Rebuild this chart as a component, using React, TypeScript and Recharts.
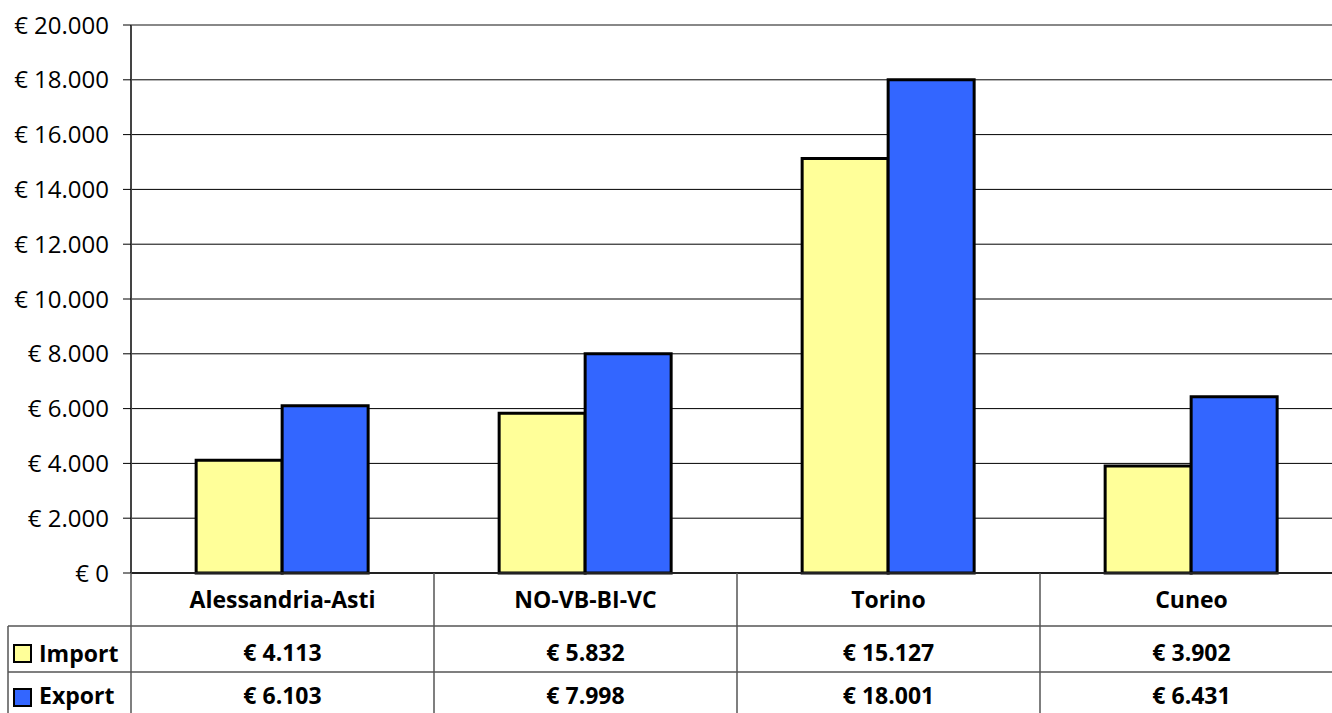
import React from 'react';
import { Bar, BarChart, CartesianGrid, ReferenceLine, XAxis, YAxis } from 'recharts';

const categories = ['Alessandria-Asti', 'NO-VB-BI-VC', 'Torino', 'Cuneo'];
const importValues = [4113, 5832, 15127, 3902];
const exportValues = [6103, 7998, 18001, 6431];
const yTicks = [0, 2000, 4000, 6000, 8000, 10000, 12000, 14000, 16000, 18000, 20000];

const data = categories.map((name, i) => ({
  name,
  import: importValues[i],
  export: exportValues[i],
}));

const W = 1350;
const H = 713;
const LEFT = 131;
const RIGHT = 7;
const TOP = 25;
const TABLE_TOP = 573;
const ROW1 = 626;
const ROW2 = 672;
const BAND = (W - LEFT - RIGHT) / categories.length;
const FONT = '"Open Sans", sans-serif';
const LINE = '#555';
const YELLOW = '#FFFF99';
const BLUE = '#3366FF';

const fmt = (v: number) => String(v).replace(/\B(?=(\d{3})+(?!\d))/g, '.');

const TableTick = (props: any) => {
  const { x, index } = props;
  const left = x - BAND / 2;
  const right = x + BAND / 2;
  const txt = { fontFamily: FONT, fontWeight: 700, fontSize: 23, fill: '#000', textAnchor: 'middle' as const };
  return (
    <g>
      {index === 0 && (
        <g>
          <line x1={LEFT} y1={TABLE_TOP} x2={LEFT} y2={H} stroke={LINE} strokeWidth={1.5} />
          <line x1={8} y1={ROW1} x2={W} y2={ROW1} stroke={LINE} strokeWidth={1.5} />
          <line x1={8} y1={ROW2} x2={W} y2={ROW2} stroke={LINE} strokeWidth={1.5} />
          <line x1={8} y1={ROW1} x2={8} y2={H} stroke={LINE} strokeWidth={1.5} />
          <rect x={14} y={645} width={17} height={17} fill={YELLOW} stroke="#000" strokeWidth={2} />
          <text x={39} y={662} style={{ ...txt, textAnchor: 'start' }}>Import</text>
          <rect x={14} y={689} width={17} height={17} fill={BLUE} stroke="#000" strokeWidth={2} />
          <text x={39} y={704} style={{ ...txt, textAnchor: 'start' }}>Export</text>
        </g>
      )}
      <line x1={right} y1={TABLE_TOP} x2={right} y2={H} stroke={LINE} strokeWidth={1.5} />
      <text x={(left + right) / 2} y={608} style={txt}>{categories[index]}</text>
      <text x={(left + right) / 2} y={661} style={txt}>€ {fmt(importValues[index])}</text>
      <text x={(left + right) / 2} y={704} style={txt}>€ {fmt(exportValues[index])}</text>
    </g>
  );
};

export default function App() {
  return (
    <div style={{ position: 'absolute', left: 0, top: 0, width: 1332, height: H, overflow: 'hidden', background: '#fff' }}>
      <BarChart
        width={W}
        height={H}
        data={data}
        margin={{ top: TOP, right: RIGHT, left: 0, bottom: 0 }}
        barGap={0}
        barCategoryGap="21.5%"
      >
        <CartesianGrid stroke="#000" strokeWidth={1} vertical={false} />
        <ReferenceLine y={20000} stroke="#888" strokeWidth={2} />
        <XAxis
          dataKey="name"
          height={H - TABLE_TOP}
          axisLine={{ stroke: '#222', strokeWidth: 2 }}
          tickLine={false}
          tick={<TableTick />}
          interval={0}
        />
        <YAxis
          width={LEFT}
          domain={[0, 20000]}
          ticks={yTicks}
          tickFormatter={(v: number) => `€ ${fmt(v)}`}
          axisLine={{ stroke: '#444', strokeWidth: 2 }}
          tickLine={{ stroke: '#000' }}
          tickSize={8}
          tickMargin={14}
          tick={{ fontFamily: FONT, fontSize: 24, fill: '#000' }}
        />
        <Bar dataKey="import" fill={YELLOW} stroke="#000" strokeWidth={3} isAnimationActive={false} />
        <Bar dataKey="export" fill={BLUE} stroke="#000" strokeWidth={3} isAnimationActive={false} />
      </BarChart>
    </div>
  );
}
